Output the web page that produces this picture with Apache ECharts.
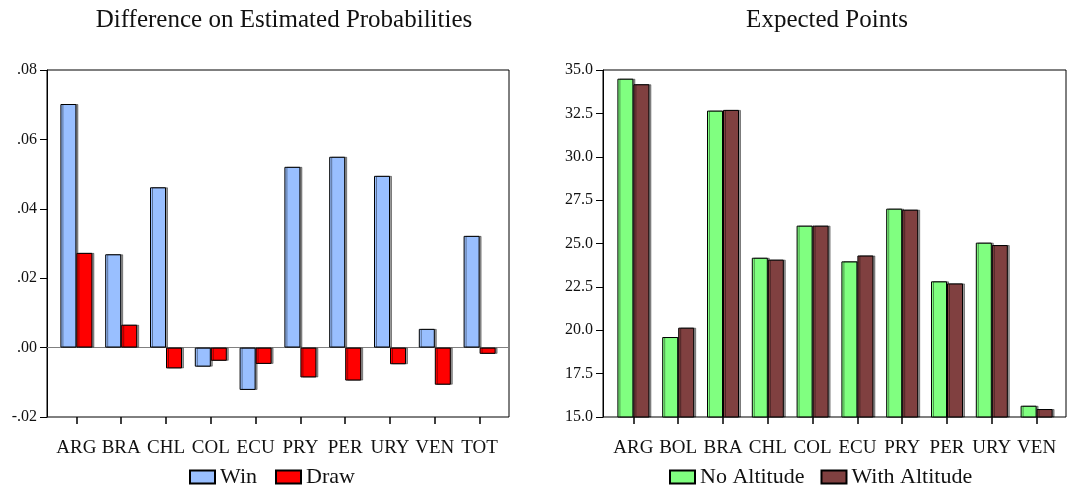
<!DOCTYPE html>
<html>
<head>
<meta charset="utf-8">
<script src="https://cdn.jsdelivr.net/npm/echarts@6/dist/echarts.min.js"></script>
<style>
  html, body { margin: 0; padding: 0; background: #fff; }
  #chart { width: 1083px; height: 489px; }
</style>
</head>
<body>
<div id="chart"></div>
<script>
// left panel
const probCountries = ['ARG', 'BRA', 'CHL', 'COL', 'ECU', 'PRY', 'PER', 'URY', 'VEN', 'TOT'];
const winDiff = [0.0702, 0.0269, 0.0462, -0.0055, -0.0122, 0.0521, 0.0550, 0.0495, 0.0054, 0.0322];
const drawDiff = [0.0273, 0.0066, -0.0060, -0.0038, -0.0047, -0.0086, -0.0095, -0.0048, -0.0107, -0.0018];

// right panel
const pointCountries = ['ARG', 'BOL', 'BRA', 'CHL', 'COL', 'ECU', 'PRY', 'PER', 'URY', 'VEN'];
const noAltitude = [34.50, 19.61, 32.66, 24.18, 26.03, 23.97, 27.01, 22.82, 25.05, 15.65];
const withAltitude = [34.18, 20.15, 32.70, 24.07, 26.03, 24.31, 26.95, 22.70, 24.91, 15.46];

const FONT = '"Liberation Serif", "DejaVu Serif", serif';

const barStyle = color => ({
  color: color,
  borderColor: '#000',
  borderWidth: 1,
  shadowColor: 'rgba(0,0,0,0.4)',
  shadowOffsetX: 2,
  shadowOffsetY: 0,
  shadowBlur: 0,
});

const chart = echarts.init(document.getElementById('chart'));

// frame grids only carry the box, the y axis and the zero line
const frameX = gi => ({
  gridIndex: gi,
  type: 'value',
  min: 0,
  max: 1,
  axisLine: { show: gi === 0, onZero: true, lineStyle: { color: '#808080', width: 1 } },
  axisTick: { show: false },
  axisLabel: { show: false },
  splitLine: { show: false },
});

const dataX = (gi, cats) => ({
  gridIndex: gi,
  type: 'category',
  data: cats,
  axisLine: { show: false, onZero: false },
  axisTick: { show: true, alignWithLabel: true, length: 7, lineStyle: { color: '#000', width: 1.5 } },
  axisLabel: { color: '#111', fontFamily: FONT, fontSize: 19, margin: 22, interval: 0 },
  splitLine: { show: false },
});

const frameY = (gi, min, max, step, fmt) => ({
  gridIndex: gi,
  type: 'value',
  min: min,
  max: max,
  interval: step,
  axisLine: { show: true, onZero: false, lineStyle: { color: '#000' } },
  axisTick: { show: true, length: 7, lineStyle: { color: '#000' } },
  axisLabel: { color: '#111', fontFamily: FONT, fontSize: 16, margin: 10, formatter: fmt },
  splitLine: { show: false },
});

const option = {
  animation: false,
  textStyle: { fontFamily: FONT },
  title: [
    {
      text: 'Difference on Estimated Probabilities',
      left: 279,
      top: 3,
      textAlign: 'center',
      textStyle: { fontFamily: FONT, fontSize: 25, fontWeight: 'normal', color: '#111' },
    },
    {
      text: 'Expected Points',
      left: 822,
      top: 3,
      textAlign: 'center',
      textStyle: { fontFamily: FONT, fontSize: 25, fontWeight: 'normal', color: '#111' },
    },
  ],
  legend: [
    {
      data: ['Win', 'Draw'],
      left: 184,
      top: 461,
      itemWidth: 25,
      itemHeight: 13,
      itemGap: 18,
      icon: 'rect',
      textStyle: { fontFamily: FONT, fontSize: 22, color: '#111' },
    },
    {
      data: ['No Altitude', 'With Altitude'],
      left: 664,
      top: 461,
      itemWidth: 25,
      itemHeight: 13,
      itemGap: 16,
      icon: 'rect',
      textStyle: { fontFamily: FONT, fontSize: 22, color: '#111' },
    },
  ],
  grid: [
    // frames
    { left: 47, top: 70, width: 462, height: 347, show: true, borderColor: '#000', borderWidth: 1, backgroundColor: 'transparent' },
    { left: 603, top: 70, width: 463, height: 347, show: true, borderColor: '#000', borderWidth: 1, backgroundColor: 'transparent' },
    // data areas
    { left: 54, top: 70, width: 448, height: 347 },
    { left: 611, top: 70, width: 448, height: 347 },
  ],
  xAxis: [
    frameX(0),
    frameX(1),
    dataX(2, probCountries),
    dataX(3, pointCountries),
  ],
  yAxis: [
    frameY(0, -0.02, 0.08, 0.02, v => v.toFixed(2).replace('0.', '.')),
    frameY(1, 15, 35, 2.5, v => v.toFixed(1)),
    { gridIndex: 2, type: 'value', min: -0.02, max: 0.08, show: false },
    { gridIndex: 3, type: 'value', min: 15, max: 35, show: false },
  ],
  series: [
    {
      name: 'Win',
      type: 'bar',
      xAxisIndex: 2,
      yAxisIndex: 2,
      barWidth: 16,
      barGap: '0%',
      itemStyle: barStyle('#99bfff'),
      data: winDiff,
    },
    {
      name: 'Draw',
      type: 'bar',
      xAxisIndex: 2,
      yAxisIndex: 2,
      barWidth: 16,
      barGap: '0%',
      itemStyle: barStyle('#ff0000'),
      data: drawDiff,
    },
    {
      name: 'No Altitude',
      type: 'bar',
      xAxisIndex: 3,
      yAxisIndex: 3,
      barWidth: 16,
      barGap: '0%',
      itemStyle: barStyle('#80ff80'),
      data: noAltitude,
    },
    {
      name: 'With Altitude',
      type: 'bar',
      xAxisIndex: 3,
      yAxisIndex: 3,
      barWidth: 16,
      barGap: '0%',
      itemStyle: barStyle('#804040'),
      data: withAltitude,
    },
  ],
};

chart.setOption(option);
</script>
</body>
</html>
